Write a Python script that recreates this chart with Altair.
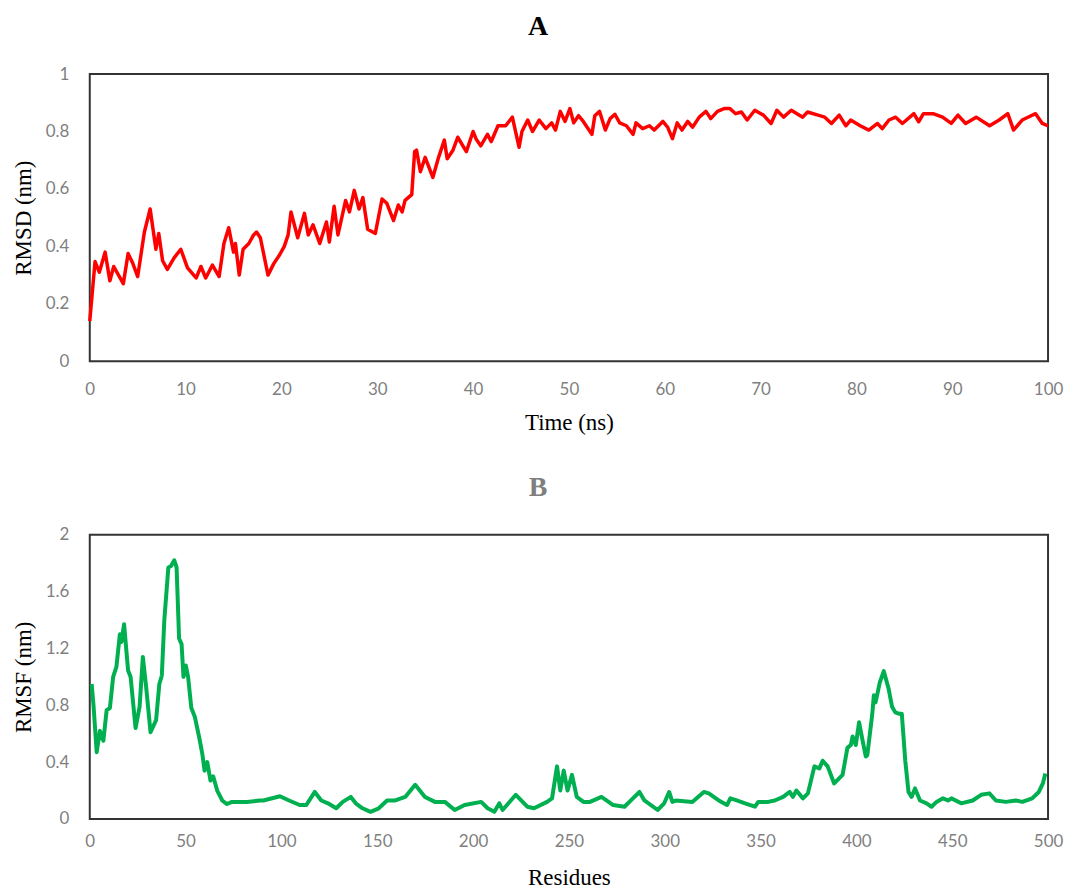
import altair as alt
import pandas as pd

# ---------------- Panel A: RMSD ----------------
time_ns = [0.0, 0.55, 1.0, 1.6, 2.1, 2.5, 3.0, 3.5, 4.0, 4.5, 5.0, 5.7, 6.3, 6.9, 7.2, 7.6, 8.1, 8.8, 9.5,
           10.2, 11.1, 11.6, 12.1, 12.8, 13.5, 14.0, 14.5, 15.0, 15.2, 15.6, 16.0, 16.6, 17.1, 17.4, 17.8,
           18.6, 19.2, 19.8, 20.3, 20.7, 21.0, 21.7, 22.4, 22.8, 23.3, 24.0, 24.7, 25.0, 25.5, 25.9, 26.7,
           27.1, 27.6, 28.1, 28.5, 29.0, 29.8, 30.5, 31.0, 31.7, 32.2, 32.6, 32.9, 33.6, 33.9, 34.1, 34.5,
           35.0, 35.8, 36.4, 37.0, 37.3, 37.9, 38.4, 39.3, 40.0, 40.3, 40.8, 41.5, 41.9, 42.6, 43.4, 44.1,
           44.8, 45.1, 45.7, 46.2, 46.9, 47.6, 48.2, 48.6, 49.1, 49.6, 50.1, 50.5, 51.0, 51.5, 52.4, 52.7,
           53.2, 53.8, 54.3, 54.8, 55.3, 56.0, 56.7, 57.0, 57.7, 58.4, 58.9, 59.8, 60.3, 60.8, 61.3, 61.8,
           62.4, 62.9, 63.6, 64.3, 64.8, 65.5, 66.2, 66.8, 67.4, 68.0, 68.6, 69.4, 70.3, 71.1, 71.7, 72.4,
           73.2, 74.4, 74.9, 76.0, 76.7, 77.4, 78.2, 78.9, 79.4, 80.4, 81.3, 82.2, 82.7, 83.4, 84.1, 84.8,
           86.0, 86.5, 87.0, 88.0, 89.0, 89.9, 90.6, 91.4, 92.5, 93.9, 94.9, 95.8, 96.4, 97.3, 98.7, 99.4,
           100.0]
rmsd_nm = [0.14, 0.347, 0.31, 0.38, 0.28, 0.33, 0.30, 0.27, 0.375, 0.34, 0.295, 0.45, 0.53, 0.39, 0.445,
           0.35, 0.32, 0.36, 0.39, 0.325, 0.29, 0.33, 0.29, 0.335, 0.295, 0.41, 0.465, 0.38, 0.41, 0.30,
           0.39, 0.41, 0.44, 0.45, 0.43, 0.30, 0.34, 0.37, 0.40, 0.44, 0.52, 0.43, 0.515, 0.44, 0.475,
           0.41, 0.485, 0.415, 0.54, 0.44, 0.56, 0.52, 0.595, 0.53, 0.57, 0.46, 0.445, 0.565, 0.55, 0.49,
           0.544, 0.52, 0.56, 0.58, 0.73, 0.735, 0.66, 0.71, 0.64, 0.71, 0.77, 0.705, 0.735, 0.78, 0.73,
           0.80, 0.775, 0.75, 0.79, 0.765, 0.82, 0.82, 0.85, 0.745, 0.80, 0.84, 0.80, 0.84, 0.81, 0.83,
           0.805, 0.87, 0.835, 0.88, 0.83, 0.855, 0.835, 0.79, 0.855, 0.87, 0.805, 0.845, 0.86, 0.83,
           0.82, 0.79, 0.83, 0.81, 0.82, 0.805, 0.835, 0.815, 0.775, 0.83, 0.805, 0.835, 0.815, 0.85,
           0.87, 0.845, 0.87, 0.88, 0.88, 0.862, 0.868, 0.84, 0.874, 0.857, 0.828, 0.874, 0.85, 0.874,
           0.85, 0.868, 0.857, 0.85, 0.828, 0.857, 0.82, 0.84, 0.82, 0.805, 0.828, 0.81, 0.84, 0.85,
           0.828, 0.862, 0.834, 0.862, 0.862, 0.85, 0.828, 0.857, 0.828, 0.85, 0.82, 0.84, 0.862, 0.805,
           0.84, 0.862, 0.828, 0.82]

# ---------------- Panel B: RMSF ----------------
residue = [1, 2, 3.6, 5.3, 7.1, 8.8, 10.5, 12.2, 13.9, 15.7, 16.5, 17.9, 20, 21.3, 23.9, 26, 27.7, 29.4,
           31.7, 34.6, 36.3, 37.6, 38.9, 41, 42.4, 44.1, 45.3, 46.6, 47.9, 48.9, 50.1, 51.3, 53, 54.8, 57,
           58.7, 59.9, 61.3, 63, 64.4, 66.5, 69.1, 71.6, 74.2, 82, 88.8, 90.6, 99.2, 104, 109.5, 113, 117.4,
           120.8, 124.3, 128.6, 132, 136.2, 138.8, 142.3, 146.5, 150.8, 155.1, 159.4, 164.6, 169.8, 174.9,
           180.1, 185.3, 190.4, 195.6, 204.2, 207.6, 211.1, 213.7, 215.4, 222.3, 228.3, 231.8, 238.6, 241.2,
           243.8, 245.5, 247.3, 249.3, 251.6, 254.1, 257.6, 261, 267, 273.1, 279, 283.4, 286.8, 289.4,
           296.3, 299.7, 302.3, 304, 305.8, 314.4, 320.4, 323, 328.2, 332.5, 334.2, 337.6, 341.9, 347.1,
           348.8, 354, 357.4, 361.8, 365.2, 366.9, 368.7, 372.1, 374.7, 378.1, 380.7, 382.4, 385, 388.4,
           391, 392.8, 395.3, 397.1, 398, 399.7, 401.4, 403.2, 404.9, 405.7, 408.3, 409.1, 410, 412.2,
           414.3, 416.8, 418.6, 420.3, 422.5, 423.7, 425.5, 427.2, 428.8, 430.6, 433.2, 436.6, 439.2,
           441.8, 445.2, 447.8, 449.6, 454.7, 460.7, 465.1, 469.4, 472.8, 478, 483.2, 486.6, 491.7, 495.2,
           497.3, 498.6]
rmsf_nm = [0.95, 0.79, 0.47, 0.62, 0.55, 0.765, 0.78, 1.0, 1.07, 1.30, 1.245, 1.37, 1.045, 1.0, 0.64,
           0.79, 1.14, 0.93, 0.61, 0.695, 0.95, 1.01, 1.40, 1.77, 1.78, 1.82, 1.77, 1.27, 1.23, 1.0, 1.08,
           1.0, 0.78, 0.72, 0.58, 0.46, 0.34, 0.40, 0.27, 0.30, 0.20, 0.13, 0.105, 0.12, 0.12, 0.13, 0.13,
           0.16, 0.13, 0.098, 0.098, 0.19, 0.13, 0.11, 0.075, 0.12, 0.155, 0.11, 0.075, 0.05, 0.075, 0.13,
           0.13, 0.155, 0.24, 0.155, 0.12, 0.12, 0.063, 0.098, 0.12, 0.075, 0.05, 0.11, 0.063, 0.17, 0.086,
           0.075, 0.12, 0.145, 0.37, 0.20, 0.34, 0.20, 0.31, 0.155, 0.12, 0.12, 0.155, 0.098, 0.086, 0.145,
           0.19, 0.13, 0.063, 0.11, 0.19, 0.12, 0.13, 0.12, 0.19, 0.18, 0.13, 0.098, 0.145, 0.13, 0.11,
           0.086, 0.12, 0.12, 0.13, 0.155, 0.19, 0.155, 0.20, 0.145, 0.18, 0.37, 0.355, 0.41, 0.37, 0.25,
           0.285, 0.31, 0.50, 0.52, 0.58, 0.52, 0.68, 0.555, 0.44, 0.45, 0.74, 0.87, 0.82, 0.96, 1.04,
           0.917, 0.79, 0.75, 0.74, 0.74, 0.41, 0.19, 0.155, 0.215, 0.13, 0.11, 0.086, 0.12, 0.145, 0.13,
           0.145, 0.11, 0.13, 0.17, 0.18, 0.13, 0.12, 0.13, 0.12, 0.145, 0.19, 0.25, 0.32]

x_ticks_a = [0, 10, 20, 30, 40, 50, 60, 70, 80, 90, 100]
y_ticks_a = [0, 0.2, 0.4, 0.6, 0.8, 1]
x_ticks_b = [0, 50, 100, 150, 200, 250, 300, 350, 400, 450, 500]
y_ticks_b = [0, 0.4, 0.8, 1.2, 1.6, 2]

df_a = pd.DataFrame({"t": time_ns, "v": rmsd_nm})
df_b = pd.DataFrame({"r": residue, "v": rmsf_nm})

LABEL_FONT = "Lato"
SERIF = "Liberation Serif"
GREY = "#7f7f7f"


def x_axis(title, values, label_pad, title_pad):
    return alt.Axis(title=title, values=values, format="~r", grid=False, ticks=False, domain=False,
                    labelFont=LABEL_FONT, labelFontSize=17, labelColor=GREY, labelPadding=label_pad,
                    titleFont=SERIF, titleFontSize=23, titleFontWeight="normal", titleColor="black",
                    titlePadding=title_pad, labelFlush=False)


def y_axis(title, values):
    return alt.Axis(title=title, values=values, format="~r", grid=False, ticks=False, domain=False,
                    labelFont=LABEL_FONT, labelFontSize=17, labelColor=GREY, labelPadding=21,
                    titleFont=SERIF, titleFontSize=23, titleFontWeight="normal", titleColor="black",
                    titlePadding=10, labelFlush=False)


chart_a = alt.Chart(df_a).mark_line(color="#ff0000", strokeWidth=3.5, strokeJoin="round").encode(
    x=alt.X("t:Q", scale=alt.Scale(domain=[0, 100], nice=False),
            axis=x_axis("Time (ns)", x_ticks_a, 20, 14)),
    y=alt.Y("v:Q", scale=alt.Scale(domain=[0, 1], nice=False), axis=y_axis("RMSD (nm)", y_ticks_a)),
).properties(
    width=961, height=288,
    title=alt.TitleParams("A", font=SERIF, fontSize=28, fontWeight="bold", color="black",
                          anchor="middle", dx=-31, offset=2, baseline="alphabetic"),
)

chart_b = alt.Chart(df_b).mark_line(color="#00b050", strokeWidth=4, strokeJoin="round").encode(
    x=alt.X("r:Q", scale=alt.Scale(domain=[0, 500], nice=False),
            axis=x_axis("Residues", x_ticks_b, 15, 17)),
    y=alt.Y("v:Q", scale=alt.Scale(domain=[0, 2], nice=False), axis=y_axis("RMSF (nm)", y_ticks_b)),
).properties(
    width=961, height=285,
    title=alt.TitleParams("B", font=SERIF, fontSize=28, fontWeight="bold", color=GREY,
                          anchor="middle", dx=-31, offset=2, baseline="alphabetic"),
)

chart = alt.vconcat(chart_a, chart_b, spacing=38).properties(
    padding={"left": 3, "top": 3, "right": 0, "bottom": 0}
).configure_view(stroke="#333333", strokeWidth=2)

chart.save("out.html", embed_options={"renderer": "svg", "actions": False})
